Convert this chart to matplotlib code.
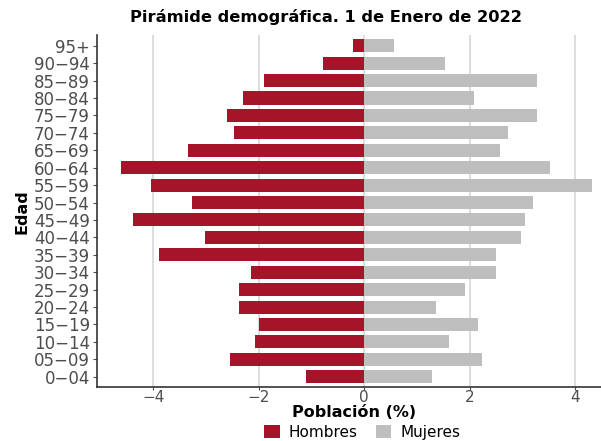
import matplotlib
matplotlib.use("Agg")
import matplotlib.pyplot as plt
import numpy as np

# grupos de edad (de abajo hacia arriba)
edades = ["0\u221204", "05\u221209", "10\u221214", "15\u221219", "20\u221224", "25\u221229",
          "30\u221234", "35\u221239", "40\u221244", "45\u221249", "50\u221254", "55\u221259",
          "60\u221264", "65\u221269", "70\u221274", "75\u221279", "80\u221284", "85\u221289",
          "90\u221294", "95+"]

hombres = [1.11, 2.54, 2.07, 1.99, 2.38, 2.38, 2.14, 3.89, 3.01, 4.38,
           3.26, 4.05, 4.61, 3.34, 2.46, 2.61, 2.30, 1.90, 0.79, 0.22]
mujeres = [1.28, 2.24, 1.61, 2.16, 1.36, 1.92, 2.49, 2.49, 2.97, 3.04,
           3.20, 4.32, 3.52, 2.57, 2.72, 3.27, 2.08, 3.28, 1.53, 0.56]

col_h = "#A51428"
col_m = "#BEBEBE"

plt.rcParams['font.family'] = ['DejaVu Sans']

fig = plt.figure(figsize=(6.01, 4.41), dpi=100)
ax = fig.add_axes([0.161, 0.122, 0.84, 0.798])

y = np.arange(len(edades))
ax.barh(y, [-v for v in hombres], height=0.75, color=col_h, label="Hombres", zorder=3)
ax.barh(y, mujeres, height=0.75, color=col_m, label="Mujeres", zorder=3)

ax.set_xlim(-5.07, 4.5)
ax.set_ylim(-0.6, len(edades) - 0.4)
ax.set_xticks([-4, -2, 0, 2, 4])
ax.set_xticklabels(["\u22124", "\u22122", "0", "2", "4"])
ax.set_yticks(y)
ax.set_yticklabels(edades)

ax.grid(axis="x", color="#D3D3D3", linewidth=1.1, zorder=0)
ax.grid(axis="y", visible=False)
for s in ["top", "right"]:
    ax.spines[s].set_visible(False)
for s in ["left", "bottom"]:
    ax.spines[s].set_color("#333333")
    ax.spines[s].set_linewidth(1.2)
ax.tick_params(axis="y", colors="#4D4D4D", labelsize=12, length=3, width=0.8, pad=2)
ax.tick_params(axis="x", colors="#4D4D4D", labelsize=11, length=2, width=0.8, pad=0)

ax.set_xlabel("Población (%)", fontsize=11.5, fontweight="bold", va="center")
ax.xaxis.set_label_coords(0.51, -0.072)
ax.set_ylabel("Edad", fontsize=11.5, fontweight="bold", labelpad=3)
fig.text(0.543, 0.962, "Pirámide demográfica. 1 de Enero de 2022",
         ha="center", va="center", fontsize=11.7, fontweight="bold")

fig.legend(loc="center", bbox_to_anchor=(0.603, 0.02), ncol=2, frameon=False,
           fontsize=11, handlelength=1.0, handleheight=1.0, columnspacing=1.2,
           handletextpad=0.6, borderpad=0.2)

fig.savefig("out.png", dpi=100)
